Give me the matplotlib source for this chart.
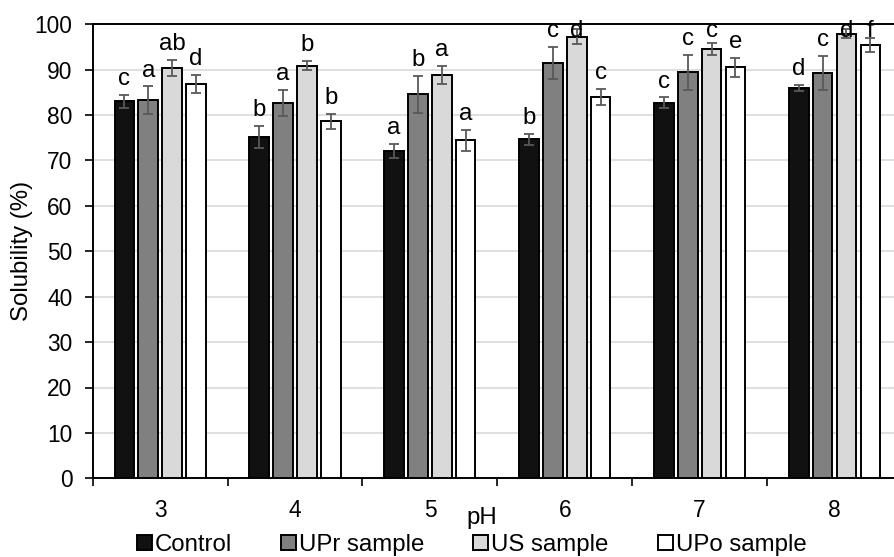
import numpy as np
import matplotlib.pyplot as plt

plt.rcParams['font.family'] = ['Liberation Sans', 'DejaVu Sans']

ph = ['3', '4', '5', '6', '7', '8']
series = ['Control', 'UPr sample', 'US sample', 'UPo sample']

control = [83.0, 75.2, 72.1, 74.7, 82.7, 85.9]
control_err = [1.4, 2.4, 1.6, 1.2, 1.2, 0.7]
upr = [83.3, 82.7, 84.6, 91.5, 89.4, 89.3]
upr_err = [3.0, 2.9, 4.1, 3.6, 3.8, 3.7]
us = [90.4, 90.9, 88.9, 97.3, 94.6, 97.9]
us_err = [1.8, 1.0, 2.0, 1.7, 1.3, 1.0]
upo = [86.8, 78.6, 74.5, 84.0, 90.5, 95.4]
upo_err = [2.0, 1.7, 2.3, 1.7, 2.0, 1.6]

letters = [
    ['c', 'b', 'a', 'b', 'c', 'd'],
    ['a', 'a', 'b', 'c', 'c', 'c'],
    ['ab', 'b', 'a', 'd', 'c', 'd'],
    ['d', 'b', 'a', 'c', 'e', 'f'],
]

values = [control, upr, us, upo]
errors = [control_err, upr_err, us_err, upo_err]
colors = ['#111111', '#808080', '#d9d9d9', '#ffffff']

W, H = 895, 557
fig = plt.figure(figsize=(W / 100, H / 100), dpi=100)
ax = fig.add_axes([92.7 / W, 1 - 478.3 / H, 809.3 / W, 454.0 / H])

x = np.arange(len(ph))
pitch = 0.177
width = 0.145
fs_tick = 16.4
fs = 17.3

for i, (vals, errs, col, name) in enumerate(zip(values, errors, colors, series)):
    pos = x + (i - 1.5) * pitch
    ax.bar(pos, vals, width, color=col, edgecolor='black', linewidth=1.4,
           label=name, zorder=3)
    ax.errorbar(pos, vals, yerr=errs, fmt='none', ecolor='#595959',
                elinewidth=1.3, capsize=3.6, capthick=1.3, zorder=4)
    for p, v, e, t in zip(pos, vals, errs, letters[i]):
        ax.text(p, min(v + e + 3.5, 98.6), t, ha='center', va='center',
                fontsize=fs, zorder=5, clip_on=False)

ax.set_xlim(-0.5, len(ph) - 0.5)
ax.set_ylim(0, 100)
ax.set_yticks(np.arange(0, 101, 10))
ax.yaxis.grid(True, color='#d9d9d9', linewidth=1.2, zorder=0)
ax.set_axisbelow(True)

ax.set_xticks(x)
ax.set_xticklabels(ph)
ax.set_xticks(np.arange(-0.5, len(ph), 1.0), minor=True)
ax.tick_params(axis='x', which='major', length=0, pad=15, labelsize=fs_tick)
ax.tick_params(axis='x', which='minor', length=5.5, width=1.2, direction='out')
ax.tick_params(axis='y', length=5.5, width=1.2, direction='out',
               labelsize=fs_tick, pad=9)

for side in ['left', 'bottom', 'top', 'right']:
    ax.spines[side].set_linewidth(1.4)
    ax.spines[side].set_color('black')

ax.set_ylabel('Solubility (%)', fontsize=fs)
ax.yaxis.set_label_coords(-0.074, 0.5)
fig.text(482 / W, 1 - 518 / H, 'pH', ha='center', va='center', fontsize=fs)

fig.legend(loc='center', bbox_to_anchor=(471.5 / W, 1 - 545 / H), ncol=4,
           frameon=False, fontsize=fs, handlelength=0.62, handleheight=0.62,
           handletextpad=0.12, columnspacing=2.05, borderpad=0)

fig.savefig('out.png', dpi=100)
